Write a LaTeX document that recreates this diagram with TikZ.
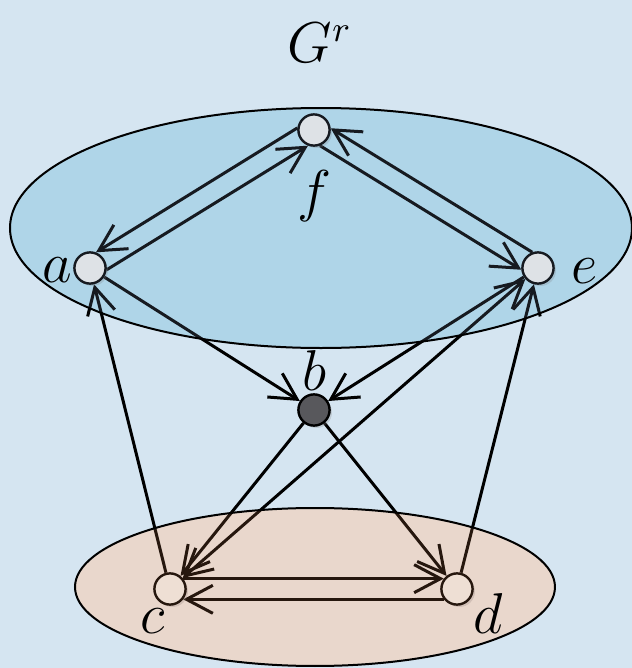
\documentclass[tikz,border=0pt]{standalone}
\usepackage{amsmath,amssymb}
\usepackage{xcolor}
\usetikzlibrary{arrows.meta,shadows,backgrounds}

\definecolor{bgblue}{RGB}{213,229,241}
\definecolor{topbase}{RGB}{192,234,250}
\definecolor{botbase}{RGB}{244,240,238}
\definecolor{topover}{RGB}{110,130,160}
\definecolor{botover}{RGB}{190,115,70}
\definecolor{nodewhite}{RGB}{250,250,248}
\definecolor{bdark}{RGB}{88,88,92}

\begin{document}
\begin{tikzpicture}[x=0.25pt, y=0.25pt, >={Straight Barb[length=6.6pt,width=7pt]},
  vertex/.style={circle, draw, line width=0.6pt, minimum size=7.8pt, inner sep=0pt,
    fill=nodewhite, drop shadow={opacity=0.25, shadow xshift=0.6pt, shadow yshift=-0.6pt}},
  edgeline/.style={->, line width=0.75pt},
  lbl/.style={font=\fontsize{13.5}{16}\selectfont}]
\useasboundingbox (0,0) rectangle (632,668);

%--- Vertices ---
\node[vertex] (f) at (314,538) {};
\node[vertex] (a) at (90,400) {};
\node[vertex] (e) at (538,400) {};
\node[vertex, fill=bdark] (b) at (314,258) {};
\node[vertex] (c) at (170,79) {};
\node[vertex] (d) at (457,79) {};

\begin{pgfonlayer}{background}
  % Background and ellipse bases
  \fill[bgblue] (0,0) rectangle (632,668);
  \fill[topbase] (321,440) ellipse (311 and 120);
  \fill[botbase] (315,81) ellipse (240 and 79);

  % Pairs of opposite arcs
  \draw[edgeline] (a.-6.4) -- (f.249.6);
  \draw[edgeline] (f.173.6) -- (a.69.6);
  \draw[edgeline] (f.-69.6) -- (e.186.4);
  \draw[edgeline] (e.110.4) -- (f.6.4);
  \draw[edgeline] (c.38) -- (d.142);
  \draw[edgeline] (d.218) -- (c.322);

  % Single arcs
  \foreach \s/\t in {a/b, e/b, b/c, b/d, c/a, d/e} {
    \draw[edgeline] (\s) -- (\t);
  }
  \draw[edgeline, <->] (c) -- (e);
\end{pgfonlayer}

%--- Tinted regions ---
\fill[topover, fill opacity=0.2] (321,440) ellipse (311 and 120);
\fill[botover, fill opacity=0.2] (315,81) ellipse (240 and 79);
\draw[line width=0.5pt] (321,440) ellipse (311 and 120);
\draw[line width=0.5pt] (315,81) ellipse (240 and 79);

%--- Labels ---
\node[lbl, anchor=base] (title) at (320,606) {$G^r$};
\node[lbl, anchor=base] (la) at (57,386) {$a$};
\node[lbl, anchor=base] (le) at (585,385) {$e$};
\node[lbl] (lf) at (314,472) {$f$};
\node[lbl] (lb) at (314,298) {$b$};
\node[lbl, anchor=base] (lc) at (153,35) {$c$};
\node[lbl, anchor=base] (ld) at (488,35) {$d$};
\end{tikzpicture}
\end{document}
